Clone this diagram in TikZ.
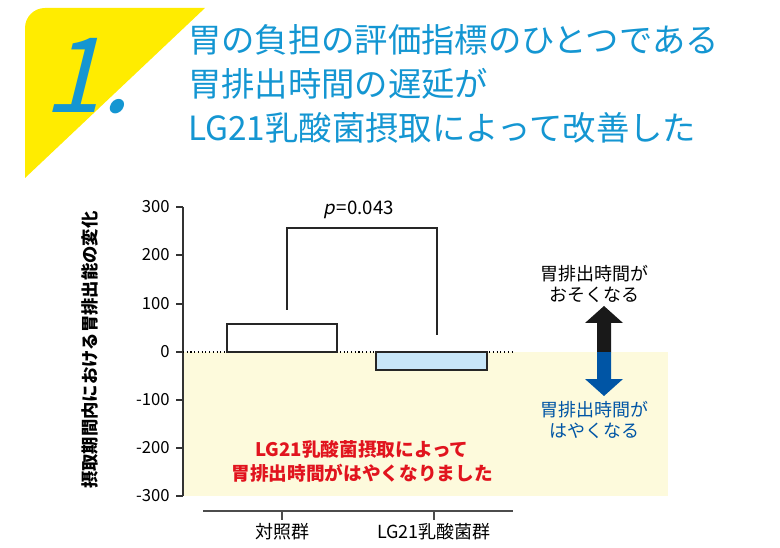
\documentclass[tikz,border=0pt]{standalone}
\usepackage{fontspec}
\setmainfont{Noto Sans CJK JP}
\begin{document}
\begin{tikzpicture}[x=0.75pt,y=-0.75pt,
  ttl/.style={text=titleblue,font=\fontsize{25}{26}\selectfont,anchor=west,inner sep=0},
  tick/.style={font=\fontsize{12.5}{13}\selectfont,anchor=east,inner sep=0},
  bar/.style={draw=black!85,line width=1.1pt}]
\definecolor{titleblue}{RGB}{20,150,210}
\definecolor{hl}{RGB}{255,236,0}
\definecolor{pale}{RGB}{253,250,220}
\definecolor{barblue}{RGB}{200,230,248}
\definecolor{redt}{RGB}{225,20,30}
\definecolor{arrblue}{RGB}{0,85,165}
\useasboundingbox (0,0) rectangle (780,548);
\fill[white] (0,0) rectangle (780,548);
% yellow triangle
\fill[hl] (45,8) -- (205,8) -- (25,178) -- (25,28) to[out=90,in=180] cycle;
\node[text=titleblue,font=\fontsize{78}{78}\selectfont,inner sep=0,xslant=0.25] (one) at (96,76) {1.};
\node[ttl] (t1) at (188,40) {胃の負担の評価指標のひとつである};
\node[ttl] (t2) at (188,84) {胃排出時間の遅延が};
\node[ttl] (t3) at (188,128) {LG21乳酸菌摂取によって改善した};
% pale area
\fill[pale] (183,352) rectangle (668,496);
% axis
\draw[black!80,line width=0.8pt] (183,207) -- (183,496);
\foreach \v/\y in {300/207,200/255,100/304,0/352,-100/400,-200/448,-300/496}{
  \draw[black!80,line width=0.8pt] (176,\y) -- (183,\y);
  \node[tick] at (170,\y) {\v};}
\node[rotate=90,font=\fontsize{13}{13}\selectfont\bfseries,inner sep=0] (ylab) at (90,350) {摂取期間内における胃排出能の変化};
\draw[dotted,line width=0.8pt] (183,352) -- (513,352);
\draw[bar,fill=white] (227,324) rectangle (337,352);
\draw[bar,fill=barblue] (376,352) rectangle (487,370);
% bracket
\draw[black!85,line width=1.1pt] (287,310) -- (287,228) -- (437,228) -- (437,335);
\node[font=\fontsize{14}{14}\selectfont,inner sep=0] (p) at (358,210) {\tikz[baseline=(q.base)]\node[xslant=0.2,inner sep=0](q){p};=0.043};
% x axis
\draw[black!70,line width=0.8pt] (203,511) -- (513,511);
\draw[black!70,line width=0.8pt] (282,511) -- (282,520);
\draw[black!70,line width=0.8pt] (434,511) -- (434,520);
\node[font=\fontsize{13.5}{14}\selectfont,inner sep=0] (c1) at (282,532) {対照群};
\node[font=\fontsize{13.5}{14}\selectfont,inner sep=0] (c2) at (434,532) {LG21乳酸菌群};
% arrows
\fill[black!90] (597,352) -- (597,323) -- (585,323) -- (604,306) -- (623,323) -- (611,323) -- (611,352) -- cycle;
\fill[arrblue] (597,352) -- (597,379) -- (585,379) -- (604,396) -- (623,379) -- (611,379) -- (611,352) -- cycle;
\node[align=center,font=\fontsize{13.5}{16}\selectfont,inner sep=0] (u) at (594,284) {胃排出時間が\\おそくなる};
\node[align=center,text=arrblue,font=\fontsize{13.5}{16}\selectfont,inner sep=0] (d) at (594,420) {胃排出時間が\\はやくなる};
\node[align=center,text=redt,font=\fontsize{14}{18}\selectfont\bfseries,inner sep=0] (r) at (362,461) {LG21乳酸菌摂取によって\\胃排出時間がはやくなりました};
\end{tikzpicture}
\end{document}
